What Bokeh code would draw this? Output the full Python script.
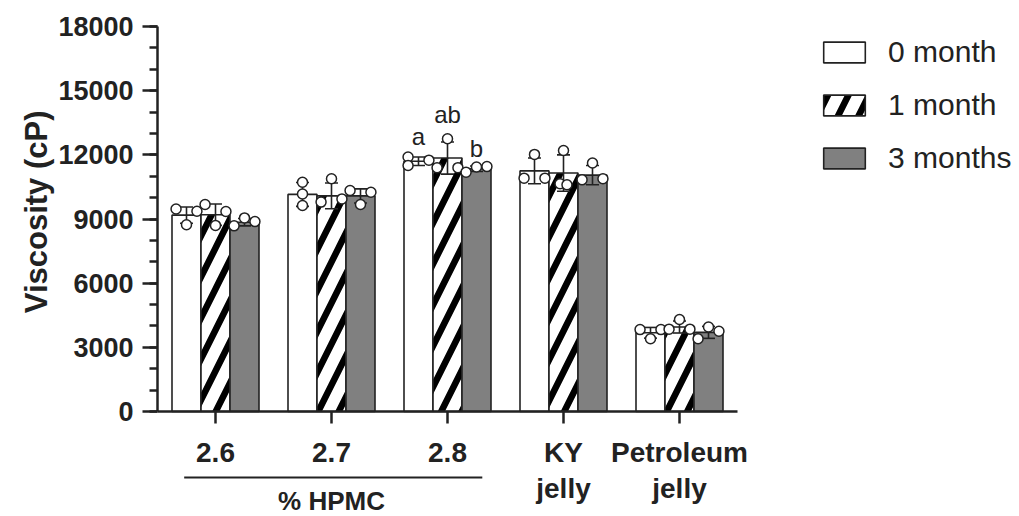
from bokeh.plotting import figure
from bokeh.models import (ColumnDataSource, FixedTicker, SingleIntervalTicker, Range1d,
                          Legend, LegendItem, Title)
from bokeh.core.properties import value
from bokeh.embed import file_html
from bokeh.resources import INLINE

# ---------------- data ----------------
categories = ["2.6", "2.7", "2.8", "KY\njelly", "Petroleum\njelly"]
series = ["0 month", "1 month", "3 months"]

mean_0 = [9180, 10150, 11700, 11250, 3680]
sd_0 = [380, 560, 200, 600, 250]
dots_0 = [[9470, 8730, 9360], [10170, 10720, 9630], [11900, 11500, 11750],
          [10910, 12020, 10910], [3830, 3400, 3830]]

mean_1 = [9200, 10080, 11850, 11150, 3950]
sd_1 = [500, 600, 750, 850, 280]
dots_1 = [[9680, 8700, 9350], [9790, 10880, 9940], [11400, 12750, 11400],
          [10650, 12200, 10600], [3850, 4300, 3850]]

mean_3 = [8850, 10080, 11350, 11050, 3700]
sd_3 = [170, 330, 130, 450, 280]
dots_3 = [[8680, 9050, 8880], [10330, 9680, 10250], [11190, 11430, 11450],
          [10830, 11620, 10880], [3400, 3950, 3750]]

letters = ["a", "ab", "b"]          # significance letters over the 2.8 group
letter_y = [12860, 13890, 12300]
y_max = 18000
y_step = 3000
group_label = "% HPMC"
group_members = [0, 1, 2]          # indices of the HPMC categories
y_label = "Viscosity (cP)"

# ---------------- style / layout ----------------
FONT = "Liberation Sans"
INK = "#222222"
GREY = "#808080"
BAR_W = 0.25
OFFS = [-BAR_W, 0.0, BAR_W]
DX_DEFAULT = [-0.36, 0.0, 0.36]
DX_SPECIAL = {(0, 1): [0.0, 0.0, 0.0], (0, 2): [-0.36, -0.36, 0.36], (1, 3): [-0.12, 0.0, 0.12]}

CANVAS_W, CANVAS_H = 1016, 514
LEFT, TOP = 157, 26
PX_PER_CAT = 116.0
PLOT_H = 385.0                        # pixels from 0 to y_max
FRAME_W = CANVAS_W - LEFT
FRAME_H = CANVAS_H - TOP
UPP = y_max / PLOT_H                  # data units per pixel (y)
y_start = y_max - FRAME_H * UPP
x_end = -0.5 + FRAME_W / PX_PER_CAT

def below(px):                        # pixels below the zero line -> data y
    return -px * UPP

means = [mean_0, mean_1, mean_3]
sds = [sd_0, sd_1, sd_3]
dots = [dots_0, dots_1, dots_3]

p = figure(frame_width=FRAME_W, frame_height=FRAME_H, x_range=Range1d(-0.5, x_end),
           y_range=Range1d(y_start, y_max), output_backend="svg", toolbar_location=None,
           x_axis_location="above",
           min_border_left=LEFT, min_border_right=0, min_border_top=TOP,
           min_border_bottom=0)
p.outline_line_color = None
p.xgrid.visible = False
p.ygrid.visible = False

bar_styles = [
    dict(fill_color="white"),
    dict(fill_color="white", hatch_pattern="/", hatch_color="black",
         hatch_weight=6.5, hatch_scale=41),
    dict(fill_color=GREY),
]

bar_renderers = []
for s in range(3):
    xs = [i + OFFS[s] for i in range(len(categories))]
    src = ColumnDataSource(dict(x=xs, top=means[s]))
    r = p.vbar(x="x", top="top", bottom=0, width=BAR_W, source=src, line_color=INK,
               line_width=1.6, **bar_styles[s])
    bar_renderers.append(r)

# error bars + individual points
for s in range(3):
    x0, lo, hi, cx0, cx1 = [], [], [], [], []
    dx, dy = [], []
    for i in range(len(categories)):
        xc = i + OFFS[s]
        x0.append(xc)
        lo.append(means[s][i] - sds[s][i])
        hi.append(means[s][i] + sds[s][i])
        cx0.append(xc - 0.056)
        cx1.append(xc + 0.056)
        offs = DX_SPECIAL.get((s, i), DX_DEFAULT)
        for k, v in enumerate(dots[s][i]):
            dx.append(xc + offs[k] * BAR_W)
            dy.append(v)
    p.segment(x0=x0, y0=lo, x1=x0, y1=hi, line_color=INK, line_width=1.6)
    p.segment(x0=cx0, y0=hi, x1=cx1, y1=hi, line_color=INK, line_width=1.6)
    p.segment(x0=cx0, y0=lo, x1=cx1, y1=lo, line_color=INK, line_width=1.6)
    p.scatter(x=dx, y=dy, marker="circle", size=10, fill_color="white",
              line_color=INK, line_width=1.5)

# significance letters above the 2.8 group
p.text(x=[2 + o for o in OFFS], y=letter_y, text=letters,
       text_align="center", text_baseline="alphabetic", text_font=value(FONT),
       text_font_size="24px", text_color=INK)

# y axis (left, limited to 0..y_max)
yax = p.yaxis[0]
yax.bounds = (0, y_max)
yax.ticker = SingleIntervalTicker(interval=y_step, num_minor_ticks=3)
yax.major_label_text_font = FONT
yax.major_label_text_font_style = "bold"
yax.major_label_text_font_size = "27px"
yax.major_label_text_color = INK
yax.major_label_standoff = 9
yax.major_tick_out = 15
yax.major_tick_in = 0
yax.minor_tick_out = 8
yax.minor_tick_in = 0
yax.axis_line_width = 2.5
yax.major_tick_line_width = 2.5
yax.minor_tick_line_width = 2.5
yax.axis_line_color = INK
yax.major_tick_line_color = INK
yax.minor_tick_line_color = INK

# y axis title, centred on the 0..y_max span (offset from the top of the frame)
p.add_layout(Title(text=y_label, align="right", offset=84, standoff=4,
                   text_font=FONT, text_font_style="bold", text_font_size="31px",
                   text_color=INK), "left")

# x axis drawn on the zero line, ticks pointing down
xax = p.xaxis[0]
xax.fixed_location = 0
xax.bounds = (-0.5, len(categories) - 0.5)
xax.ticker = FixedTicker(ticks=list(range(len(categories))))
xax.major_label_overrides = {i: "" for i in range(len(categories))}
xax.major_label_standoff = 0
xax.major_tick_out = 0
xax.major_tick_in = 12
xax.minor_tick_line_color = None
xax.axis_line_width = 2.5
xax.major_tick_line_width = 2.5
xax.axis_line_color = INK
xax.major_tick_line_color = INK

# category labels (two lines where needed)
first = [c.split("\n")[0] for c in categories]
second = [c.split("\n")[1] if "\n" in c else "" for c in categories]
cx = list(range(len(categories)))
p.text(x=cx, y=[below(41)] * len(cx), text=first, text_align="center",
       text_baseline="middle", text_font=value(FONT), text_font_style="bold",
       text_font_size="28px", text_color=INK)
sx2 = [x for x, t in zip(cx, second) if t]
st2 = [t for t in second if t]
p.text(x=sx2, y=[below(77)] * len(sx2), text=st2, text_align="center",
       text_baseline="middle", text_font=value(FONT), text_font_style="bold",
       text_font_size="28px", text_color=INK)

# group bracket for the HPMC categories
g0, g1 = min(group_members), max(group_members)
p.segment(x0=[g0 - 0.27], y0=[below(66)], x1=[g1 + 0.3], y1=[below(66)],
          line_color=INK, line_width=2)
p.text(x=[(g0 + g1) / 2], y=[below(89)], text=[group_label], text_align="center",
       text_baseline="middle", text_font=value(FONT), text_font_style="bold",
       text_font_size="26px", text_color=INK)

# legend
legend = Legend(items=[LegendItem(label=series[s], renderers=[bar_renderers[s]])
                       for s in range(3)],
                location=(661, FRAME_H - 149), glyph_width=52, glyph_height=26,
                label_standoff=18, spacing=19, padding=0, margin=0,
                border_line_color=None, background_fill_alpha=0,
                label_text_font=FONT, label_text_font_size="30px",
                label_text_color=INK)
p.add_layout(legend, "center")

open("out.html", "w").write(file_html(p, INLINE))
